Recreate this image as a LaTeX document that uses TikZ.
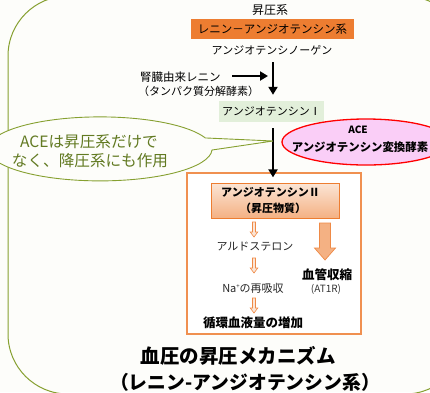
\documentclass[tikz,border=0pt]{standalone}
\usepackage{fontspec}
\setmainfont{Noto Sans CJK JP}
\usetikzlibrary{arrows.meta,shapes.geometric}
\definecolor{bgc}{RGB}{253,253,250}
\definecolor{olive}{RGB}{134,160,48}
\definecolor{olivetext}{RGB}{98,122,34}
\definecolor{orng}{RGB}{237,125,49}
\definecolor{lorng}{RGB}{244,177,131}
\definecolor{plorng}{RGB}{251,229,214}
\definecolor{lgreen}{RGB}{226,239,218}
\definecolor{pinkf}{RGB}{250,206,247}
\newcommand{\fs}[1]{\fontsize{#1}{#1}\selectfont}
\newcommand{\harrowshape}[3]{% x, ytop, ybottom
  \filldraw[draw=orng!90, fill=plorng, line width=0.6pt]
    (#1-1.5,#2) -- (#1+1.5,#2) -- (#1+1.5,#3-5) -- (#1+3.8,#3-5) -- (#1,#3)
    -- (#1-3.8,#3-5) -- (#1-1.5,#3-5) -- cycle;}
\tikzset{
  txt/.style={inner sep=0pt, text=black},
  blk/.style={line width=2.6pt, -{Triangle[length=8pt,width=9pt]}},
}
\begin{document}
\begin{tikzpicture}[x=1pt,y=-1pt]
\useasboundingbox (0,0) rectangle (430,392);
\clip (0,0) rectangle (430,392);
\fill[bgc] (0,0) rectangle (430,392);
% big rounded frame
\draw[olive, line width=1pt, rounded corners=60pt] (8,-4) rectangle (465,394);

% top part
\node[txt, font=\fs{12}] (shoatsu) at (270,10) {昇圧系};
\node[txt, fill=orng, minimum width=163pt, minimum height=20pt, font=\fs{11.5}] (ras) at (272.5,29) {レニン－アンジオテンシン系};
\node[txt, font=\fs{11}] (agn) at (272,50) {アンジオテンシノーゲン};
\node[txt, font=\fs{11.5}, anchor=west] (ren1) at (140,77) {腎臓由来レニン};
\node[txt, font=\fs{11}, anchor=west] (ren2) at (138,91) {（タンパク質分解酵素）};
\node[txt, fill=lgreen, minimum width=105pt, minimum height=21pt, font=\fs{11}] (ang1) at (271.5,111.5) {アンジオテンシンⅠ};

\coordinate (a1s) at (273,62);
\draw[blk] (a1s) -- ([yshift=6pt]ang1.north -| a1s);
\coordinate (hs) at (232,76);
\coordinate (he) at (268,76);
\draw[blk] (hs) -- (he);

% ACE ellipse
\node[ellipse, draw=red, line width=1.3pt, fill=pinkf, minimum width=168pt, minimum height=46pt, inner sep=0pt] (ace) at (366,142) {};
\node[txt, font=\fs{10}\bfseries] (acet) at (358,130) {ACE};
\node[txt, font=\fs{11.4}\bfseries] (acen) at (360,147) {アンジオテンシン変換酵素};

% frame
\node[draw=orng!85, line width=1.3pt, fill=white, minimum width=174pt, minimum height=161pt, inner sep=0pt] (frame) at (274,253.5) {};
\draw[blk] ([yshift=-6pt]ang1.south -| a1s) -- ([yshift=-5pt]frame.north -| a1s);

% callout
\filldraw[draw=olive, fill=bgc, line width=0.9pt]
  (212,150) arc[start angle=2, end angle=340, x radius=112, y radius=32]
  -- (273,141) -- cycle;
\node[txt, text=olivetext, font=\fs{15.6}] (c1) at (89,142) {ACEは昇圧系だけで};
\node[txt, text=olivetext, font=\fs{15.6}] (c2) at (90,161) {なく、降圧系にも作用};

% inner box
\node[draw=orng, line width=0.8pt, top color=plorng, bottom color=lorng, minimum width=128pt, minimum height=35pt, inner sep=0pt] (ang2) at (275,200.5) {};
\node[txt, font=\fs{11}\bfseries] (ang2a) at (270.5,192) {アンジオテンシンⅡ};
\node[txt, font=\fs{11}\bfseries] (ang2b) at (273,208) {（昇圧物質）};

\harrowshape{254}{222}{237}
\node[txt, font=\fs{11}, text=black!85] (ald) at (255,247) {アルドステロン};
\harrowshape{254}{258}{273}
\node[txt, font=\fs{11}, text=black!85] (na) at (253,288) {Na\raisebox{0.6ex}{\fs{6}+}の再吸収};
\harrowshape{254}{298}{313}
\node[txt, font=\fs{12.5}\bfseries] (jun) at (253,323) {循環血液量の増加};

% big arrow
\filldraw[draw=orng!90, fill=lorng, line width=0.7pt]
  (319.5,223) -- (330.5,223) -- (330.5,248) -- (335.5,248) -- (325,260)
  -- (314.5,248) -- (319.5,248) -- cycle;
\node[txt, font=\fs{12.5}\bfseries] (kekkan) at (327,275) {血管収縮};
\node[txt, font=\fs{10}, text=black!80] (at1r) at (326,289) {(AT1R)};

% title
\node[txt, font=\fs{19.5}\bfseries] (t1) at (238,356) {血圧の昇圧メカニズム};
\node[txt, font=\fs{18.8}\bfseries] (t2) at (245,382) {（レニン-アンジオテンシン系）};
\end{tikzpicture}
\end{document}
